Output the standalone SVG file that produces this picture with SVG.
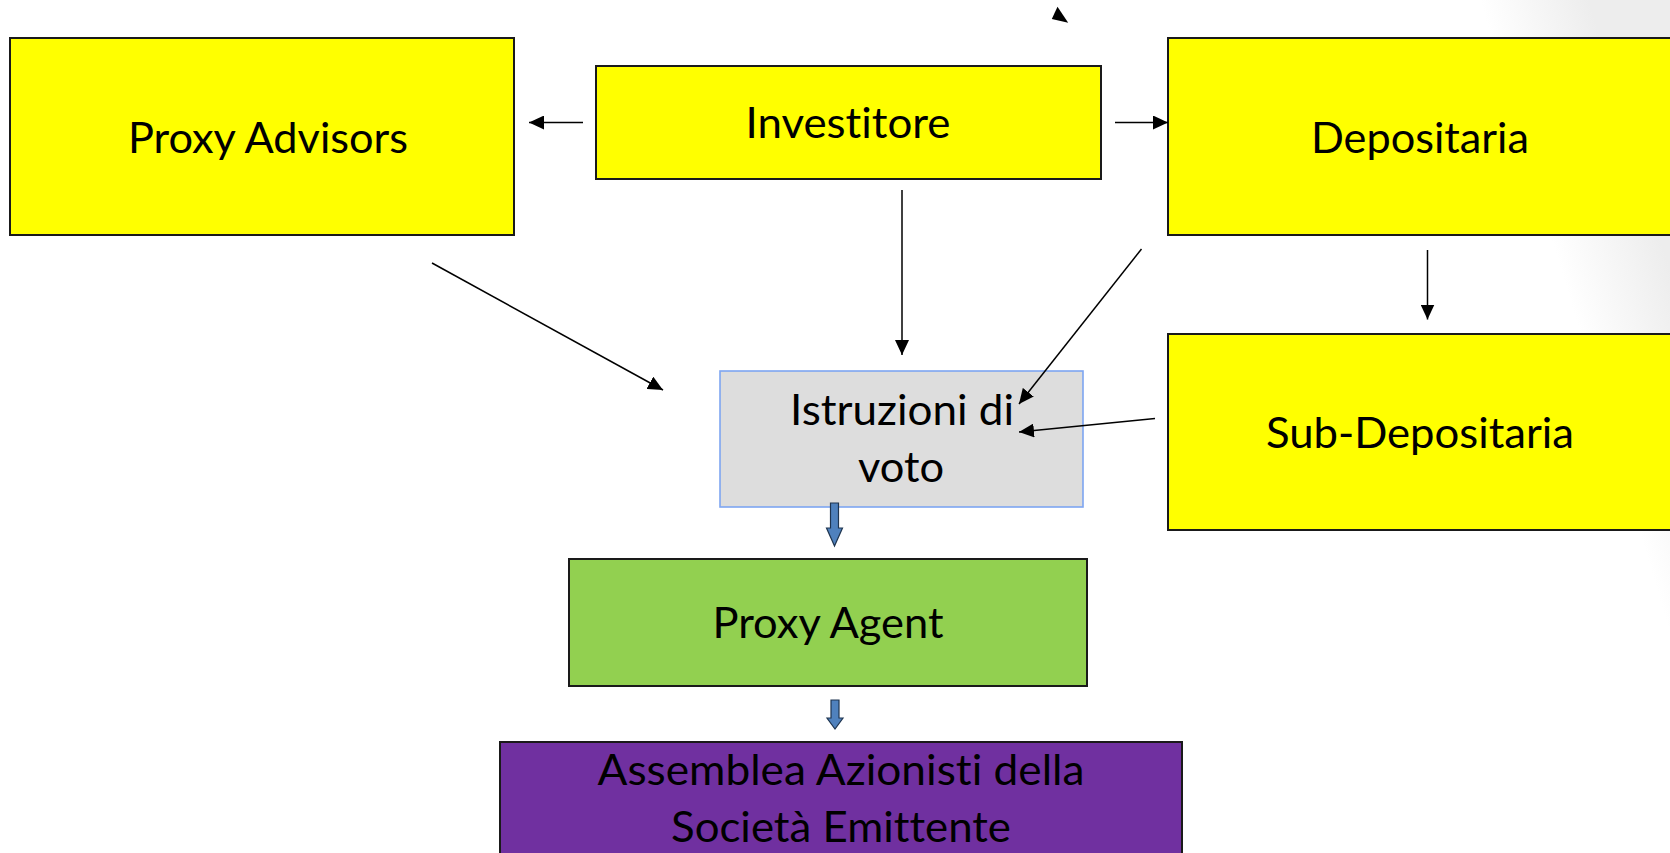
<svg xmlns="http://www.w3.org/2000/svg" width="1670" height="853" viewBox="0 0 1670 853">
  <style>
    .box { stroke: #1a1a1a; stroke-width: 2; }
    .yellow { fill: #FFFF00; }
    .green { fill: #92D050; }
    .purple { fill: #7030A0; }
    .grey { fill: #DDDDDD; stroke: #7EA6F2; stroke-width: 1.6; }
    .lbl { font-family: Lato, "Noto Sans", sans-serif; font-size: 43px; fill: #000; text-anchor: middle; font-variant-ligatures: none; font-feature-settings: "liga" 0, "clig" 0, "dlig" 0; }
    .conn { stroke: #000; stroke-width: 1.5; fill: none; marker-end: url(#ah); }
    .block { fill: #4F81BD; stroke: #1F3550; stroke-width: 1.2; }
  </style>
  <defs>
    <linearGradient id="bg" gradientUnits="userSpaceOnUse" x1="1570" y1="300" x2="1670" y2="270">
      <stop offset="0" stop-color="#FFFFFF"/>
      <stop offset="1" stop-color="#EDEDED"/>
    </linearGradient>
    <marker id="ah" markerUnits="userSpaceOnUse" markerWidth="16" markerHeight="14" refX="15" refY="7" orient="auto" viewBox="0 0 16 14">
      <path d="M0,0 L15,7 L0,14 Z" fill="#000"/>
    </marker>
  </defs>

  <rect x="0" y="0" width="1670" height="853" fill="url(#bg)"/>

  <g id="proxy-advisors">
    <rect class="box yellow" x="10" y="38" width="504" height="197"/>
    <text class="lbl" x="268" y="153" textLength="280" lengthAdjust="spacingAndGlyphs">Proxy Advisors</text>
  </g>

  <g id="investitore">
    <rect class="box yellow" x="596" y="66" width="505" height="113"/>
    <text class="lbl" x="848" y="138" textLength="205" lengthAdjust="spacingAndGlyphs">Investitore</text>
  </g>

  <g id="depositaria">
    <rect class="box yellow" x="1168" y="38" width="520" height="197"/>
    <text class="lbl" x="1420" y="153" textLength="218" lengthAdjust="spacingAndGlyphs">Depositaria</text>
  </g>

  <g id="sub-depositaria">
    <rect class="box yellow" x="1168" y="334" width="520" height="196"/>
    <text class="lbl" x="1420" y="448" textLength="308" lengthAdjust="spacingAndGlyphs">Sub-Depositaria</text>
  </g>

  <g id="istruzioni">
    <rect class="grey" x="720" y="371" width="363" height="136"/>
    <text class="lbl" x="902" y="425" textLength="224" lengthAdjust="spacingAndGlyphs">Istruzioni di</text>
    <text class="lbl" x="901" y="482" textLength="86" lengthAdjust="spacingAndGlyphs">voto</text>
  </g>

  <g id="proxy-agent">
    <rect class="box green" x="569" y="559" width="518" height="127"/>
    <text class="lbl" x="828" y="638" textLength="231" lengthAdjust="spacingAndGlyphs">Proxy Agent</text>
  </g>

  <g id="assemblea">
    <rect class="box purple" x="500" y="742" width="682" height="130"/>
    <text class="lbl" x="841" y="785" textLength="487" lengthAdjust="spacingAndGlyphs">Assemblea Azionisti della</text>
    <text class="lbl" x="841" y="842" textLength="340" lengthAdjust="spacingAndGlyphs">Società Emittente</text>
  </g>

  <g id="connectors">
    <line class="conn" x1="583" y1="122.5" x2="529" y2="122.5"/>
    <line class="conn" x1="1115" y1="122.5" x2="1168" y2="122.5"/>
    <line class="conn" x1="902" y1="190" x2="902" y2="355"/>
    <line class="conn" x1="432" y1="263" x2="663" y2="390"/>
    <line class="conn" x1="1141.5" y1="249" x2="1019" y2="404"/>
    <line class="conn" x1="1155" y1="418.5" x2="1019" y2="432"/>
    <line class="conn" x1="1427.5" y1="250" x2="1427.5" y2="319.5"/>
    <polygon points="1057.5,6.7 1051.8,19 1068.2,22.7" fill="#000"/>
    <path class="block" d="M830.5,503 L838.5,503 L838.5,528 L842.5,528 L834.5,546 L826.5,528 L830.5,528 Z"/>
    <path class="block" d="M831,700 L839,700 L839,718 L843,718 L835,729 L827,718 L831,718 Z"/>
  </g>
</svg>
